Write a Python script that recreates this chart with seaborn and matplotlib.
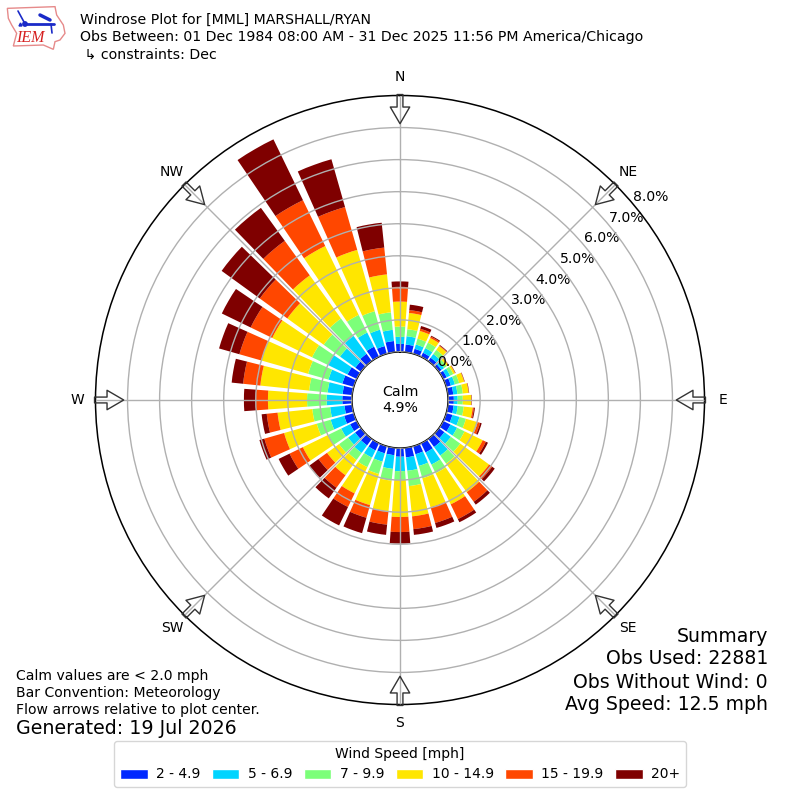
import numpy as np
import matplotlib
matplotlib.use("Agg")
import matplotlib.pyplot as plt
from matplotlib.patches import Patch, Polygon, Circle
import seaborn as sns

directions = list(range(0, 360, 10))
bin_labels = ["2 - 4.9", "5 - 6.9", "7 - 9.9", "10 - 14.9", "15 - 19.9", "20+"]
bin_colors = ["#0028ff", "#00d4ff", "#7cff79", "#ffe600", "#ff4700", "#7f0000"]
cardinals = ["N", "NE", "E", "SE", "S", "SW", "W", "NW"]
r_ticks = [0, 1, 2, 3, 4, 5, 6, 7, 8]

s_2_5 = [.25,.24,.16,.14,.13,.10,.12,.15,.17,.18,.18,.20,.25,.21,.31,.32,.26,.30,
         .27,.23,.23,.25,.25,.23,.23,.31,.24,.30,.30,.37,.32,.22,.28,.35,.25,.35]
s_5_7 = [.22,.26,.14,.16,.14,.10,.12,.13,.13,.12,.13,.23,.23,.25,.33,.42,.38,.42,
         .45,.43,.27,.25,.29,.27,.31,.44,.45,.49,.47,.45,.67,.59,.69,.49,.53,.35]
s_7_10 = [.32,.22,.19,.19,.16,.10,.11,.14,.17,.16,.19,.21,.26,.36,.31,.30,.40,.48,
          .28,.37,.40,.33,.27,.35,.45,.45,.56,.61,.58,.66,.56,.63,.67,.61,.60,.55]
s_10_15 = [.78,.51,.25,.16,.15,.06,.06,.16,.18,.26,.28,.38,.63,1.11,1.10,1.08,.94,.95,
           1.15,.96,1.01,.91,.59,.46,.88,1.06,1.09,1.22,1.53,1.52,1.38,1.40,1.66,2.39,1.99,1.19]
s_15_20 = [.46,.09,.07,.05,.02,.01,.01,.01,.01,.01,.04,.08,.11,.12,.37,.51,.51,.40,
           .47,.42,.41,.47,.48,.33,.46,.64,.34,.38,.54,.71,.75,1.06,1.33,1.59,1.39,.84]
s_20p = [.17,.17,.09,.03,.02,.01,.01,.01,.01,.01,.03,.05,.07,.10,.11,.11,.16,.18,
         .36,.32,.50,.64,.41,.35,.38,.16,.16,.37,.36,.66,1.00,1.47,1.27,2.11,1.55,.78]
series = [s_2_5, s_5_7, s_7_10, s_10_15, s_15_20, s_20p]

sns.set_style("white")
plt.rcParams["font.family"] = ["DejaVu Sans"]
plt.rcParams["text.color"] = "black"
plt.rcParams["xtick.color"] = "black"
plt.rcParams["ytick.color"] = "black"
palette = sns.color_palette(bin_colors)

fig = plt.figure(figsize=(8, 8), dpi=100, facecolor="white")
R = 304.5
ax = fig.add_axes([(400 - R) / 800, (400 - R) / 800, 2 * R / 800, 2 * R / 800], projection="polar")
ax.set_theta_zero_location("N")
ax.set_theta_direction(-1)

theta = np.deg2rad(directions)
bottom = np.zeros(len(directions))
for vals, col in zip(series, palette):
    v = np.array(vals)
    ax.bar(theta, v, width=np.deg2rad(8.2), bottom=bottom, color=col, linewidth=0, zorder=1)
    bottom += v

ax.set_rlim(0, 8)
ax.set_rorigin(-1.5)
ax.set_axisbelow(False)
ax.grid(True, color="#b0b0b0", lw=1.0)
ax.set_xticks(np.deg2rad(np.arange(0, 360, 45)))
ax.set_xticklabels(cardinals, fontsize=10)
ax.tick_params(axis="x", pad=2.5)
ax.set_yticks(r_ticks)
ax.set_yticklabels([f"{t:.1f}%" for t in r_ticks], fontsize=10.1)
ax.set_rlabel_position(50)
ax.yaxis.get_gridlines()[-1].set_visible(False)
for sp in ax.spines.values():
    sp.set_color("black")
    sp.set_linewidth(1.1)

for d in range(0, 360, 45):
    t = np.deg2rad(d)
    ax.annotate("", xy=(t, 7.12), xytext=(t, 8.03), annotation_clip=False,
                arrowprops=dict(facecolor=(1, 1, 1, 0), edgecolor="#333333", width=4.2,
                                headwidth=14, headlength=12, shrink=0, lw=1.0))

ax.text(0.5, 0.5, "Calm\n4.9%", transform=ax.transAxes, ha="center", va="center", fontsize=10.2)

px = lambda x, y: (x / 800, 1 - y / 800)
for y, s in [(20, "Windrose Plot for [MML] MARSHALL/RYAN"),
             (37, "Obs Between: 01 Dec 1984 08:00 AM - 31 Dec 2025 11:56 PM America/Chicago"),
             (55, " \u21b3 constraints: Dec")]:
    fig.text(*px(80, y), s, fontsize=10.15, va="center", ha="left")
for y, s in [(676, "Calm values are < 2.0 mph"), (693, "Bar Convention: Meteorology"),
             (710, "Flow arrows relative to plot center.")]:
    fig.text(*px(16, y), s, fontsize=10.1, va="center", ha="left")
fig.text(*px(16, 729), "Generated: 19 Jul 2026", fontsize=13.7, va="center", ha="left")
for y, s in [(636, "Summary"), (659, "Obs Used: 22881"), (682, "Obs Without Wind: 0"),
             (705, "Avg Speed: 12.5 mph")]:
    fig.text(*px(768, y), s, fontsize=13.6, va="center", ha="right")

handles = [Patch(facecolor=c, label=l) for c, l in zip(palette, bin_labels)]
fig.legend(handles=handles, title="Wind Speed [mph]", ncol=6, fontsize=10, title_fontsize=10,
           loc="lower center", bbox_to_anchor=(0.5, 6 / 800), bbox_transform=fig.transFigure,
           frameon=True, edgecolor="#cccccc", fancybox=True,
           columnspacing=0.82, handletextpad=0.6)

# logo
lg = fig.add_axes([0, 0, 1, 1], facecolor="none")
lg.set_xlim(0, 800); lg.set_ylim(800, 0); lg.axis("off")
outline = np.array([(22,25),(165,20),(170,45),(190,75),(195,100),(180,120),(165,125),(160,148),(130,135),
                    (40,138),(50,100),(35,75),(25,55)]) / 3
lg.add_patch(Polygon(outline, closed=True, fill=False, edgecolor="#e68a8a", lw=1.0))
blue = "#1a2ac8"
lg.plot([24, 54], [24, 24], color=blue, lw=2)
lg.plot([18, 24], [11, 22], color=blue, lw=1.2)
lg.plot([40, 50], [15, 20], color=blue, lw=2.5)
lg.plot([51, 52], [24, 33], color=blue, lw=1.2)
lg.add_patch(Circle((25, 24), 2.2, color=blue))
lg.add_patch(Polygon([(19, 26), (22, 26), (20.5, 23)], color=blue))
lg.text(30, 38, "IEM", fontsize=11.5, family="Liberation Serif", style="italic", color="#d62020",
        ha="center", va="center")

fig.savefig("out.png", dpi=100, facecolor="white")
